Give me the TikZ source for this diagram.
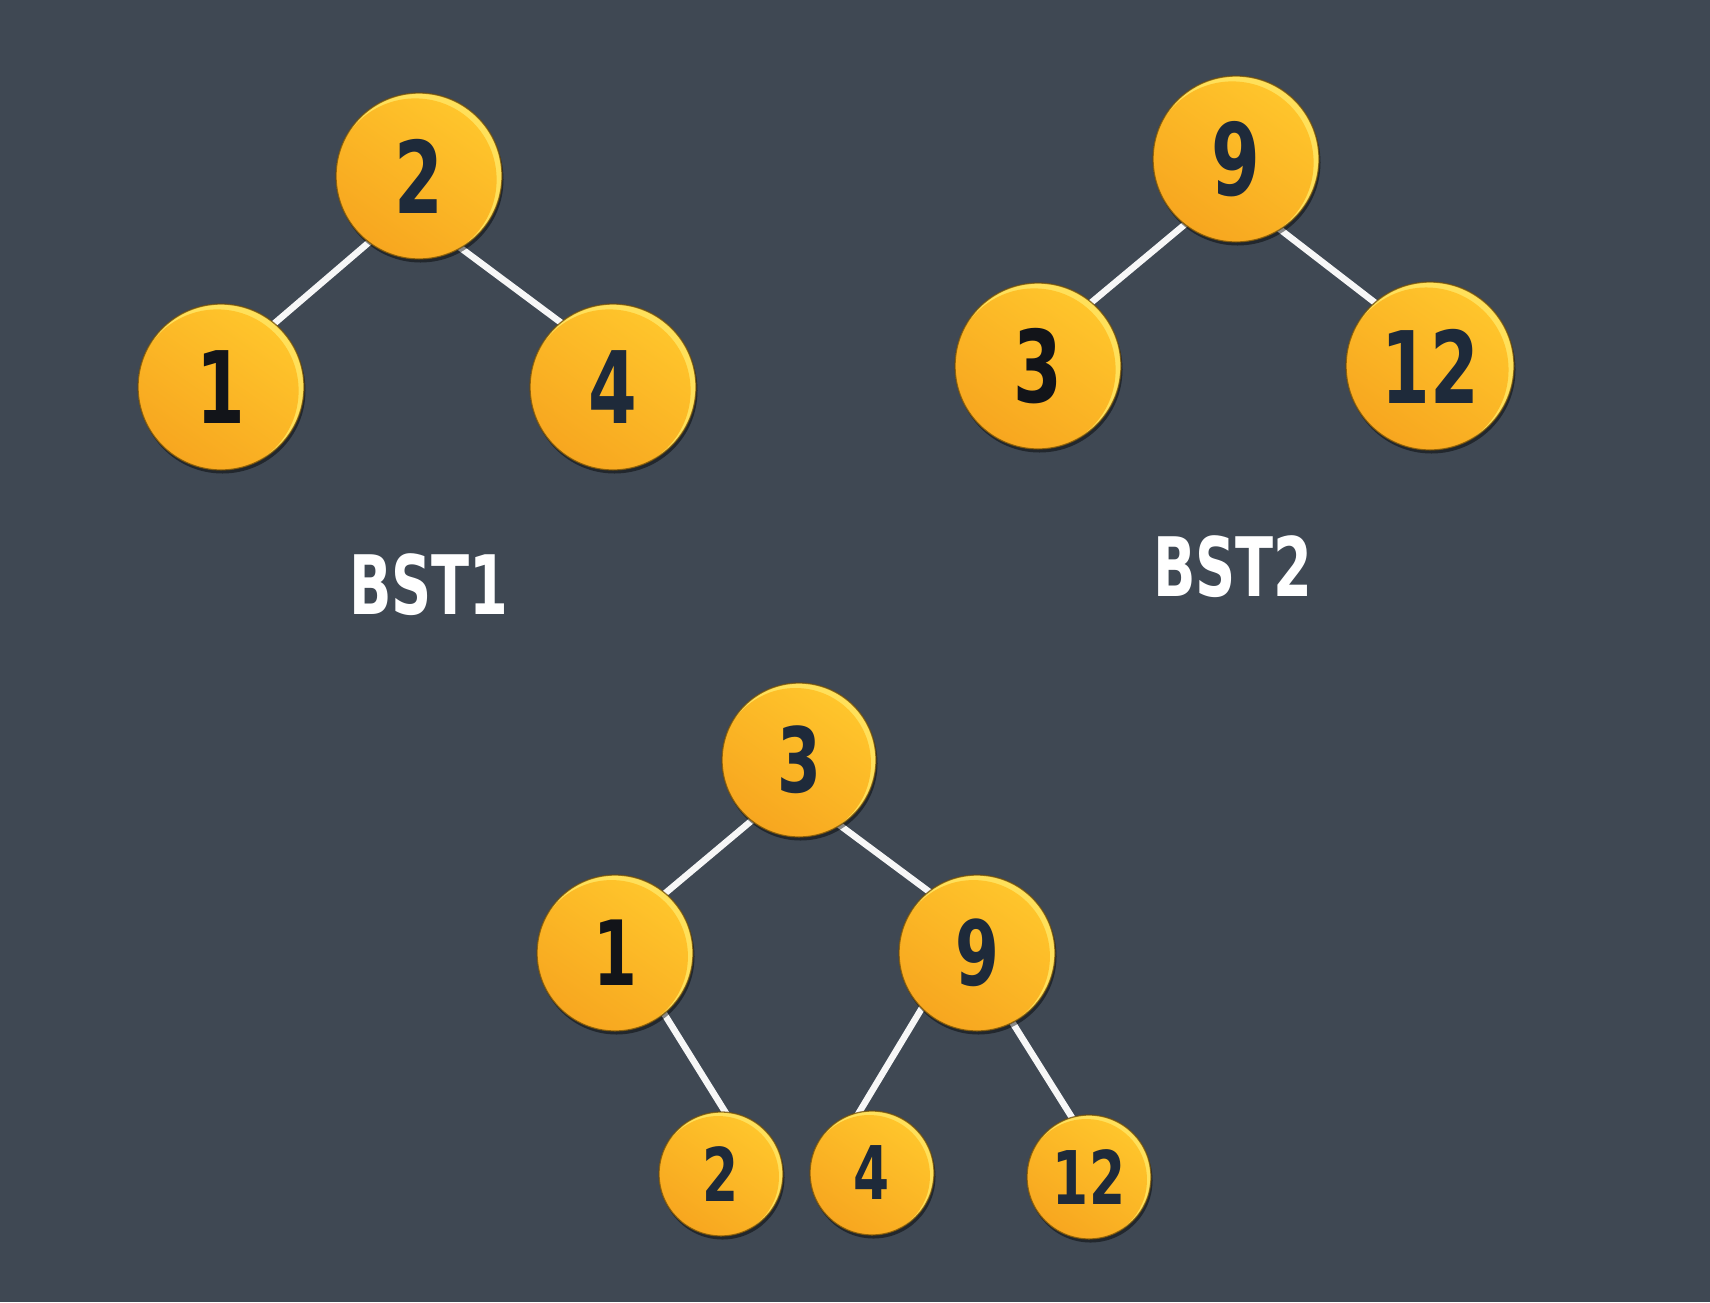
\documentclass[tikz,border=0pt]{standalone}
\usepackage{fontspec}
\usepackage{graphicx}
\usetikzlibrary{shadows}
\newfontfamily\djv{DejaVu Sans}
\definecolor{bgc}{HTML}{3F4853}
\definecolor{ylw}{HTML}{FFC62C}
\definecolor{org}{HTML}{F7A61F}
\definecolor{rimc}{HTML}{FFE05A}
\definecolor{edgec}{HTML}{6E4A05}
\definecolor{navy}{HTML}{1E2A3A}
\definecolor{inkblk}{HTML}{121419}
\pgfdeclarelayer{bglayer}
\pgfdeclarelayer{edgelayer}
\pgfsetlayers{bglayer,edgelayer,main}
\newcommand\numtxt[2]{\scalebox{0.70}[1]{\djv\bfseries\fontsize{#1}{#1}\selectfont #2}}
\newcommand\lbltxt[1]{\scalebox{0.68}[1]{\djv\bfseries\fontsize{82}{82}\selectfont #1}}
\begin{document}
\begin{tikzpicture}[x=1pt,y=-1pt,
  ball/.style={circle, inner sep=0pt, outer sep=0pt, minimum size=2*#1pt, fill=rimc,
    draw=edgec, draw opacity=0.75, line width=1.3pt, text=navy,
    drop shadow={shadow xshift=1.5pt, shadow yshift=-3.5pt, opacity=0.45, fill=black},
    path picture={\shade[top color=ylw, bottom color=org, shading angle=-35]
      ([shift={(-0.045*#1pt,-0.045*#1pt)}]path picture bounding box.center)
      circle[radius=0.98*#1pt];}},
  blk/.style={text=inkblk},
  edge/.style={draw=white!94!gray, line width=6.5pt, shorten <=-6pt, shorten >=-6pt},
  lbl/.style={text=white, inner sep=0pt}]
\begin{pgfonlayer}{bglayer}
\fill[bgc] (0,0) rectangle (1710,1302);
\end{pgfonlayer}
\useasboundingbox (0,0) rectangle (1710,1302);

% BST1
\node[ball=83] (a2) at (419,176) {\numtxt{100}{2}};
\node[ball=83,blk] (a1) at (221,387) {\numtxt{100}{1}};
\node[ball=83] (a4) at (613,387) {\numtxt{100}{4}};
\node[lbl] (l1) at (429,585) {\lbltxt{BST1}};

% BST2
\node[ball=83] (b9) at (1236,159) {\numtxt{100}{9}};
\node[ball=83,blk] (b3) at (1038,366) {\numtxt{100}{3}};
\node[ball=84] (b12) at (1430,366) {\numtxt{100}{12}};
\node[lbl] (l2) at (1233,567) {\lbltxt{BST2}};

% merged
\node[ball=77] (c3) at (799,760) {\numtxt{90}{3}};
\node[ball=78,blk] (c1) at (615,953) {\numtxt{90}{1}};
\node[ball=78] (c9) at (977,953) {\numtxt{90}{9}};
\node[ball=62] (c2) at (721,1174) {\numtxt{74}{2}};
\node[ball=62] (c4) at (872,1173) {\numtxt{74}{4}};
\node[ball=62] (c12) at (1089,1177) {\numtxt{74}{12}};

\begin{pgfonlayer}{edgelayer}
\draw[edge] (a2.233) -- (a1.50);
\draw[edge] (a2.300) -- (a4.129);
\draw[edge] (b9.232) -- (b3.50);
\draw[edge] (b9.302) -- (b12.131);
\draw[edge] (c3.232) -- (c1.50);
\draw[edge] (c3.302) -- (c9.128);
\draw[edge] (c1.309) -- (c2.86);
\draw[edge] (c9.225) -- (c4.102);
\draw[edge] (c9.297) -- (c12.106);
\end{pgfonlayer}
\end{tikzpicture}
\end{document}
